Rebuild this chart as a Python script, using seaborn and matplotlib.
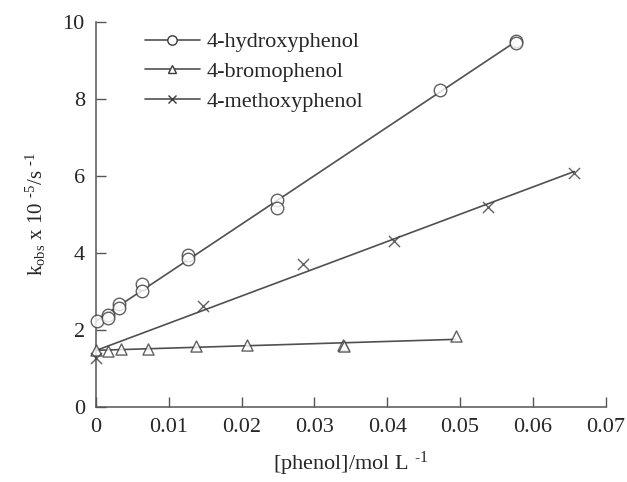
import numpy as np
import pandas as pd
import seaborn as sns
import matplotlib.pyplot as plt
from matplotlib.lines import Line2D

# [phenol] (mol/L) and k_obs (x 10^-5 s^-1)
hydroxy_x = [0.0001, 0.0017, 0.0017, 0.0032, 0.0032, 0.0063, 0.0063,
             0.0126, 0.0126, 0.0248, 0.0248, 0.0472, 0.0577, 0.0577]
hydroxy_y = [2.23, 2.39, 2.31, 2.67, 2.58, 3.19, 3.01,
             3.95, 3.84, 5.38, 5.18, 8.23, 9.52, 9.46]

bromo_x = [0.0, 0.0017, 0.0034, 0.0071, 0.0137, 0.0208, 0.0339, 0.0341, 0.0494]
bromo_y = [1.48, 1.46, 1.51, 1.51, 1.57, 1.61, 1.61, 1.57, 1.84]

methoxy_x = [0.0, 0.0147, 0.0285, 0.041, 0.0539, 0.0657]
methoxy_y = [1.27, 2.63, 3.71, 4.32, 5.2, 6.09]

labels = ["4-hydroxyphenol", "4-bromophenol", "4-methoxyphenol"]
x_ticks = [0, 0.01, 0.02, 0.03, 0.04, 0.05, 0.06, 0.07]
x_ticklabels = ["0", "0.01", "0.02", "0.03", "0.04", "0.05", "0.06", "0.07"]
y_ticks = [0, 2, 4, 6, 8, 10]

sns.set_style("ticks")
plt.rcParams["font.family"] = ["Liberation Serif", "DejaVu Serif"]
plt.rcParams["mathtext.fontset"] = "custom"
plt.rcParams["mathtext.rm"] = "Liberation Serif"
plt.rcParams["mathtext.it"] = "Liberation Serif:italic"
plt.rcParams["xtick.direction"] = "in"
plt.rcParams["ytick.direction"] = "in"

line_c = "#505050"
edge_c = "#3a3a3a"

fig = plt.figure(figsize=(6.27, 4.82), dpi=100)
ax = fig.add_axes([0.153, 0.156, 0.813, 0.798])

series = [
    (hydroxy_x, hydroxy_y, "o", 9),
    (bromo_x, bromo_y, "^", 8),
    (methoxy_x, methoxy_y, "x", 8),
]
handles = []
for (xs, ys, mk, ms), lab in zip(series, labels):
    df = pd.DataFrame({"x": xs, "y": ys})
    if mk == "x":
        skw = dict(s=ms ** 2, color=edge_c, linewidths=1.0, clip_on=False, zorder=3)
    else:
        skw = dict(s=ms ** 2, facecolors="white", edgecolors=edge_c,
                   linewidths=1.0, clip_on=False, zorder=3)
    sns.regplot(data=df, x="x", y="y", ci=None, marker=mk, ax=ax,
                scatter_kws=skw, line_kws=dict(color=line_c, lw=1.2, zorder=2))
    handles.append(Line2D([], [], color=line_c, lw=1.2, marker=mk,
                          markersize=ms * 0.75, markerfacecolor="white",
                          markeredgecolor=edge_c, label=lab))

ax.set_xlim(0, 0.07)
ax.set_ylim(0, 10)
ax.set_xticks(x_ticks)
ax.set_xticklabels(x_ticklabels)
ax.set_yticks(y_ticks)
ax.tick_params(labelsize=16, length=7, width=1, color="#555555", pad=8)
sns.despine(ax=ax)
for sp in ["left", "bottom"]:
    ax.spines[sp].set_color("#555555")
    ax.spines[sp].set_linewidth(1.1)

ax.set_xlabel("[phenol]/mol L $^{\\rm \u20101}$", fontsize=16, labelpad=9)
ax.set_ylabel("k$_{\\rm obs}$ x 10 $^{\\rm \u20105}$/s $^{\\rm \u20101}$", fontsize=15)
ax.yaxis.set_label_coords(-0.095, 0.5)

ax.legend(handles=handles, loc="upper left", bbox_to_anchor=(0.078, 0.998),
          frameon=False, fontsize=16, handlelength=2.5, handletextpad=0.3,
          labelspacing=0.42, borderaxespad=0)

fig.savefig("out.png", dpi=100)
